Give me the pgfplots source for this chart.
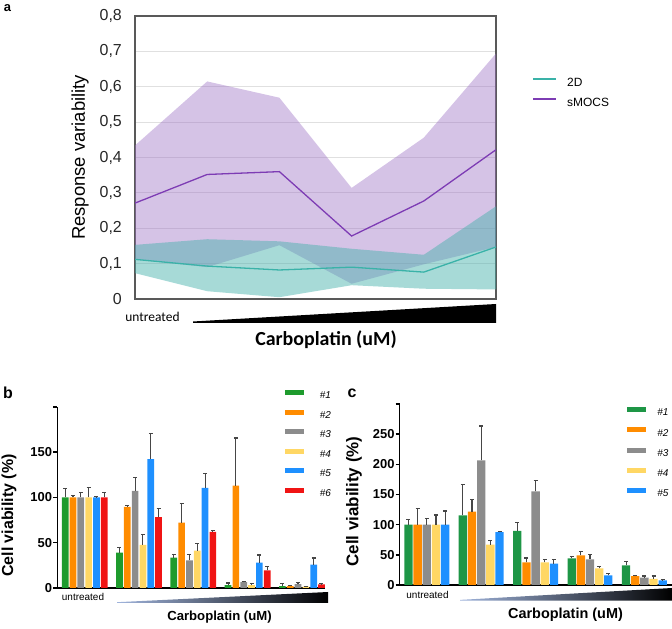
\documentclass[border=0pt]{standalone}
\usepackage{fontspec}
\setmainfont{Liberation Sans}
\newfontfamily\carlito{Carlito}
\usepackage{pgfplots}
\pgfplotsset{compat=1.18}
\pgfplotsset{/pgf/number format/assume math mode=true}
\newcommand{\fs}[1]{\fontsize{#1}{#1}\selectfont}
\definecolor{tealL}{RGB}{58,178,168}
\definecolor{tealF}{RGB}{72,178,172}
\definecolor{purL}{RGB}{125,60,180}
\definecolor{purF}{RGB}{156,111,196}
\definecolor{cgB}{RGB}{30,155,45}
\definecolor{cgC}{RGB}{30,150,70}
\definecolor{cor}{RGB}{255,140,0}
\definecolor{cgr}{RGB}{140,140,140}
\definecolor{cye}{RGB}{255,215,100}
\definecolor{cbl}{RGB}{30,144,255}
\definecolor{cre}{RGB}{240,20,20}
\definecolor{errc}{RGB}{70,70,70}
\pgfplotsset{
  myerr/.style={draw=none,
    error bars/y dir=plus, error bars/y explicit,
    error bars/error bar style={errc, line width=1.1bp},
    error bars/error mark options={errc, line width=1.1bp, mark size=2bp, rotate=90}},
}
\begin{document}
\begin{tikzpicture}[x=1bp,y=1bp]
\path[use as bounding box] (0,0) rectangle (672,629);

% ---------------- panel a ----------------
\begin{axis}[at={(135bp,330bp)}, anchor=south west, scale only axis,
  width=361bp, height=283bp,
  xmin=0, xmax=5, ymin=0, ymax=0.8,
  xtick=\empty,
  ytick={0,0.1,0.2,0.3,0.4,0.5,0.6,0.7,0.8},
  yticklabel={\pgfmathprintnumber[use comma,fixed,precision=1]{\tick}},
  ymajorgrids, grid style={black!12, line width=0.8bp},
  major tick length=0pt,
  axis line style={draw=black!65, line width=1.5bp},
  yticklabel style={font=\fs{16}, text=black!85, inner xsep=0pt, xshift=-13bp},
  ylabel={Response variability},
  ylabel style={font=\fs{18.5}, at={(axis description cs:-0.152,0.5)}, anchor=center},
  legend style={at={(axis description cs:1.0997,0.799)}, anchor=north west,
    draw=none, fill=none, inner sep=0pt, font=\fs{12},
    nodes={inner sep=0pt, minimum height=20bp},
    /tikz/every odd column/.append style={column sep=10bp}},
  legend cell align=left,
  legend image code/.code={\draw[#1, line width=2bp] (0bp,4.2bp) -- (23bp,4.2bp);},
]
\addplot[draw=none, fill=purF, fill opacity=0.42, forget plot] coordinates {
 (0,0.434) (1,0.615) (2,0.569) (3,0.314) (4,0.456) (5,0.694)
 (5,0.147) (4,0.098) (3,0.043) (2,0.152) (1,0.090) (0,0.112)} -- cycle;
\addplot[draw=none, fill=tealF, fill opacity=0.48, forget plot] coordinates {
 (0,0.153) (1,0.169) (2,0.163) (3,0.142) (4,0.125) (5,0.262)
 (5,0.027) (4,0.029) (3,0.039) (2,0.005) (1,0.022) (0,0.073)} -- cycle;
\addplot[tealL, line width=1.3bp] coordinates {
 (0,0.112) (1,0.093) (2,0.082) (3,0.090) (4,0.076) (5,0.147)};
\addlegendentry{2D}
\addplot[purL, line width=1.3bp] coordinates {
 (0,0.271) (1,0.352) (2,0.360) (3,0.178) (4,0.277) (5,0.422)};
\addlegendentry{sMOCS}
\end{axis}

% ---------------- panel b ----------------
\begin{axis}[at={(57.3bp,41bp)}, anchor=south west, scale only axis,
  width=267.7bp, height=181bp,
  xmin=-0.505, xmax=4.425, ymin=0, ymax=200,
  axis x line=bottom, axis y line=left,
  axis line style={line width=1.5bp, -},
  xtick=\empty,
  ytick={0,50,100,150,200}, yticklabels={0,50,100,150,{}},
  tick align=outside, major tick length=4bp,
  tick style={line width=1.5bp, black},
  yticklabel style={font=\bfseries\fs{13}, inner xsep=1bp},
  ylabel={Cell viability (\%)},
  ylabel style={font=\bfseries\fs{16}, at={(axis description cs:-0.180,0.40)}, anchor=center},
  ybar, bar width=0.123,
  legend style={at={(axis description cs:0.851,1.115)}, anchor=north west,
    draw=none, fill=none, inner sep=0pt, font=\itshape\fs{10},
    nodes={inner sep=0pt, minimum height=19.5bp},
    /tikz/every odd column/.append style={column sep=16bp}},
  legend cell align=left,
  legend image code/.code={\fill[#1] (0bp,1bp) rectangle (18.5bp,6bp);},
]
\addplot[myerr, fill=cgB, bar shift=-0.36] coordinates {(0,100)+-(0,10.3) (1,39)+-(0,6) (2,33.6)+-(0,3.7) (3,3.3)+-(0,2.2) (4,2.2)+-(0,2.6)};
\addlegendentry{\#1}
\addplot[myerr, fill=cor, bar shift=-0.216] coordinates {(0,100)+-(0,2) (1,89.7)+-(0,1.3) (2,72.3)+-(0,21.1) (3,113)+-(0,52.7) (4,2.2)+-(0,0.8)};
\addlegendentry{\#2}
\addplot[myerr, fill=cgr, bar shift=-0.072] coordinates {(0,100)+-(0,5.5) (1,107.4)+-(0,15.1) (2,30.6)+-(0,6.4) (3,6.6)+-(0,0.8) (4,4.4)+-(0,1.9)};
\addlegendentry{\#3}
\addplot[myerr, fill=cye, bar shift=0.072] coordinates {(0,100)+-(0,10.7) (1,47.6)+-(0,11.1) (2,41.3)+-(0,7.7) (3,3.3)+-(0,1.5) (4,1.5)+-(0,0.3)};
\addlegendentry{\#4}
\addplot[myerr, fill=cbl, bar shift=0.216] coordinates {(0,100)+-(0,1) (1,142.4)+-(0,28.1) (2,110.7)+-(0,16.3) (3,28)+-(0,8.5) (4,25.8)+-(0,7.4)};
\addlegendentry{\#5}
\addplot[myerr, fill=cre, bar shift=0.36] coordinates {(0,100)+-(0,6) (1,78.2)+-(0,10) (2,62)+-(0,1.5) (3,19.6)+-(0,4) (4,4)+-(0,0.8)};
\addlegendentry{\#6}
\end{axis}

% ---------------- panel c ----------------
\begin{axis}[at={(399.7bp,44bp)}, anchor=south west, scale only axis,
  width=272bp, height=181bp,
  xmin=-0.498, xmax=4.502, ymin=0, ymax=300,
  axis x line=bottom, axis y line=left,
  axis line style={line width=1.5bp, -},
  xtick=\empty,
  ytick={0,50,100,150,200,250,300}, yticklabels={0,50,100,150,200,250,{}},
  tick align=outside, major tick length=4bp,
  tick style={line width=1.5bp, black},
  yticklabel style={font=\bfseries\fs{13}, inner xsep=1bp},
  ylabel={Cell viability (\%)},
  ylabel style={font=\bfseries\fs{17}, at={(axis description cs:-0.168,0.461)}, anchor=center},
  ybar, bar width=0.153,
  legend style={at={(axis description cs:0.836,1.006)}, anchor=north west,
    draw=none, fill=none, inner sep=0pt, font=\itshape\fs{10},
    nodes={inner sep=0pt, minimum height=20.2bp},
    /tikz/every odd column/.append style={column sep=11bp}},
  legend cell align=left,
  legend image code/.code={\fill[#1] (0bp,1bp) rectangle (19bp,6bp);},
]
\addplot[myerr, fill=cgC, bar shift=-0.337] coordinates {(0,100)+-(0,8.3) (1,115.5)+-(0,50.8) (2,89.5)+-(0,14.4) (3,44.2)+-(0,3.3) (4,32.6)+-(0,6.1)};
\addlegendentry{\#1}
\addplot[myerr, fill=cor, bar shift=-0.1685] coordinates {(0,100)+-(0,26.5) (1,121.5)+-(0,19.9) (2,37.6)+-(0,7.2) (3,49.2)+-(0,6.6) (4,14.9)+-(0,1.1)};
\addlegendentry{\#2}
\addplot[myerr, fill=cgr, bar shift=0] coordinates {(0,100)+-(0,10) (1,206.6)+-(0,56.9) (2,155)+-(0,18.5) (3,42.5)+-(0,8.3) (4,12.2)+-(0,2.7)};
\addlegendentry{\#3}
\addplot[myerr, fill=cye, bar shift=0.1685] coordinates {(0,100)+-(0,16) (1,66.9)+-(0,6.6) (2,37.6)+-(0,4.4) (3,27.6)+-(0,3.4) (4,10)+-(0,4.9)};
\addlegendentry{\#4}
\addplot[myerr, fill=cbl, bar shift=0.337] coordinates {(0,100)+-(0,22.6) (1,87.8)+-(0,1.2) (2,35.4)+-(0,6.6) (3,16)+-(0,3.3) (4,7.7)+-(0,1.1)};
\addlegendentry{\#5}
\end{axis}

% ---------------- annotations ----------------
\node[font=\bfseries\fs{13}] at (7.5,621) {a};
\node[font=\bfseries\fs{16}] at (8,236) {b};
\node[font=\bfseries\fs{16}] at (352,236) {c};

\node[font=\carlito\fs{13.5}] at (152.5,312) {untreated};
\fill[black] (193,306) -- (496,306) -- (496,325) -- (193,307.5) -- cycle;
\node[font=\carlito\bfseries\fs{20}] at (326,289) {Carboplatin (uM)};

\node[font=\fs{10}] at (83,32) {untreated};
\shade[left color={rgb,255:red,160;green,180;blue,220}, right color=black] (117,26) -- (328,26) -- (328,37) -- (117,26.8) -- cycle;
\node[font=\bfseries\fs{13.2}] at (219.5,12) {Carboplatin (uM)};

\node[font=\fs{10}] at (427.5,34) {untreated};
\shade[left color={rgb,255:red,160;green,180;blue,220}, right color=black] (460,28.3) -- (672,28.3) -- (672,41) -- (460,29.1) -- cycle;
\node[font=\bfseries\fs{14.5}] at (565.5,14) {Carboplatin (uM)};
\end{tikzpicture}
\end{document}
